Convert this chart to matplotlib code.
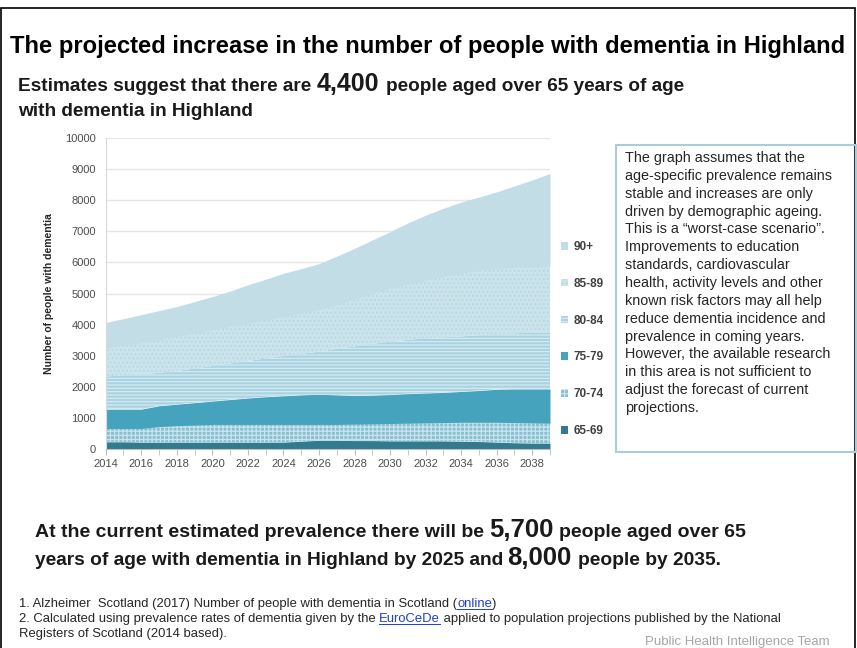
import matplotlib
matplotlib.use("Agg")
import matplotlib.pyplot as plt
from matplotlib.patches import Rectangle, Patch

W, H = 857, 648

years = list(range(2014, 2040))
age_groups = ["65-69", "70-74", "75-79", "80-84", "85-89", "90+"]
age_65_69 = [230, 230, 220, 220, 220, 220, 220, 220, 220, 220, 220, 250, 280,
             280, 270, 270, 260, 260, 260, 260, 250, 240, 220, 200, 190, 190]
age_70_74 = [430, 430, 440, 500, 530, 550, 570, 570, 570, 570, 570, 540, 510,
             510, 530, 540, 560, 570, 580, 590, 610, 620, 640, 650, 650, 640]
age_75_79 = [620, 620, 620, 670, 690, 720, 750, 800, 850, 890, 920, 950, 970,
             950, 920, 920, 930, 950, 960, 970, 990, 1020, 1060, 1080, 1090, 1100]
age_80_84 = [1050, 1090, 1120, 1060, 1070, 1100, 1130, 1160, 1190, 1230, 1280, 1320, 1370,
             1480, 1580, 1650, 1700, 1730, 1760, 1770, 1770, 1780, 1780, 1790, 1810, 1820]
age_85_89 = [920, 960, 1010, 1060, 1110, 1140, 1170, 1190, 1220, 1240, 1270, 1310, 1350,
             1420, 1520, 1620, 1720, 1790, 1870, 1960, 2030, 2080, 2100, 2120, 2120, 2130]
age_90_plus = [820, 860, 910, 940, 960, 1010, 1060, 1140, 1230, 1310, 1390, 1430, 1480,
               1560, 1630, 1720, 1820, 1970, 2090, 2190, 2290, 2360, 2470, 2620, 2790, 2980]
series = [age_65_69, age_70_74, age_75_79, age_80_84, age_85_89, age_90_plus]

y_ticks = list(range(0, 10001, 1000))
x_tick_labels = list(range(2014, 2039, 2))

face_colors = ["#317b8d", "#86c0d1", "#45a3bd", "#a9d3e0", "#cbe4ec", "#c3dde6"]
hatch_colors = ["#317b8d", "#c9e4ec", "#45a3bd", "#d3eaf1", "#b9d8e2", "#c3dde6"]
hatches = [None, "++++", None, "-----", "....", None]

BASE = "Liberation Sans"
plt.rcParams["font.family"] = [BASE, "DejaVu Sans"]
plt.rcParams["hatch.linewidth"] = 0.9

fig = plt.figure(figsize=(W / 100, H / 100), dpi=100)
fig.patch.set_facecolor("white")

def fx(x):
    return x / W

def fy(y):
    return 1 - y / H

# outer frame
fig.patches.append(Rectangle((fx(1), fy(660)), fx(854), 652 / H, transform=fig.transFigure,
                             fill=False, edgecolor="black", lw=1.2))

ax = fig.add_axes([fx(105.7), fy(449), fx(550 - 105.7), 311 / H])
polys = ax.stackplot(years, *series, colors=face_colors)
for p, h, hc in zip(polys, hatches, hatch_colors):
    p.set_edgecolor(hc)
    p.set_linewidth(0)
    if h:
        p.set_hatch(h)

ax.set_xlim(2014, 2039)
ax.set_ylim(0, 10000)
ax.set_yticks(y_ticks)
ax.set_yticklabels([str(v) for v in y_ticks], fontsize=8, color="#4d4d4d")
ax.set_xticks(years, minor=True)
ax.set_xticks(x_tick_labels)
ax.set_xticklabels([str(v) for v in x_tick_labels], fontsize=8, color="#4d4d4d")
ax.tick_params(axis="y", length=0, pad=7)
ax.tick_params(axis="x", which="both", length=4, color="#bfbfbf", direction="out", pad=3)
ax.grid(axis="y", color="#e6e6e6", lw=1)
ax.set_axisbelow(True)
for s in ["top", "right"]:
    ax.spines[s].set_visible(False)
ax.spines["left"].set_color("#d9d9d9")
ax.spines["bottom"].set_color("#bfbfbf")
ax.set_ylabel("Number of people with dementia", fontsize=7.5, fontweight="bold",
              color="#262626", labelpad=8)

handles = [Patch(facecolor=fc, edgecolor=hc, hatch=h, lw=0)
           for fc, hc, h in zip(face_colors, hatch_colors, hatches)]
fig.legend(handles[::-1], age_groups[::-1], loc="upper left",
           bbox_to_anchor=(fx(561), fy(241)), frameon=False,
           prop={"size": 8.5, "weight": "bold"}, labelcolor="#404040",
           handlelength=0.6, handleheight=0.6, handletextpad=0.5,
           labelspacing=2.1, borderpad=0, borderaxespad=0)

# note box
fig.patches.append(Rectangle((fx(616), fy(452)), fx(240), 307 / H, transform=fig.transFigure,
                             fill=False, edgecolor="#a9cdd9", lw=1.5))
note = ("The graph assumes that the\nage-specific prevalence remains\nstable and increases are only\n"
        "driven by demographic ageing.\nThis is a \u201cworst-case scenario\u201d.\nImprovements to education\n"
        "standards, cardiovascular\nhealth, activity levels and other\nknown risk factors may all help\n"
        "reduce dementia incidence and\nprevalence in coming years.\nHowever, the available research\n"
        "in this area is not sufficient to\nadjust the forecast of current\nprojections.")
fig.text(fx(625), fy(151), note, fontsize=10.4, color="#262626", va="top", ha="left",
         linespacing=1.35)

fig.text(fx(10), fy(53), "The projected increase in the number of people with dementia in Highland",
         fontsize=17.1, fontweight="bold", color="black", va="baseline", ha="left")

renderer = fig.canvas.get_renderer()

def runs(x, y, parts):
    for text, size, gap in parts:
        t = fig.text(fx(x), fy(y), text, fontsize=size, fontweight="bold",
                     color="#1a1a1a", va="baseline", ha="left")
        bb = t.get_window_extent(renderer=renderer)
        x += bb.width + gap

runs(18, 91, [("Estimates suggest that there are", 13.7, 5), ("4,400", 18, 7),
              ("people aged over 65 years of age", 13.7, 0)])
runs(18, 116, [("with dementia in Highland", 13.7, 0)])
runs(35, 537, [("At the current estimated prevalence there will be", 14.0, 5), ("5,700", 18.5, 6),
               ("people aged over 65", 14.0, 0)])
runs(35, 565, [("years of age with dementia in Highland by 2025 and", 13.8, 4), ("8,000", 18.5, 6),
               ("people by 2035.", 13.8, 0)])

def foot(x, y, parts):
    for text, link in parts:
        t = fig.text(fx(x), fy(y), text, fontsize=9.4, color="#1f3fd0" if link else "#262626",
                     va="baseline", ha="left")
        bb = t.get_window_extent(renderer=renderer)
        if link:
            fig.add_artist(plt.Line2D([fx(x), fx(x + bb.width)], [fy(y + 2), fy(y + 2)],
                                      transform=fig.transFigure, color="#1f3fd0", lw=0.7))
        x += bb.width

foot(19, 607, [("1. Alzheimer  Scotland (2017) Number of people with dementia in Scotland (", False),
               ("online", True), (")", False)])
foot(19, 622, [("2. Calculated using prevalence rates of dementia given by the ", False),
               ("EuroCeDe", True),
               (" applied to population projections published by the National", False)])
foot(19, 637, [("Registers of Scotland (2014 based).", False)])

fig.text(fx(645), fy(645), "Public Health Intelligence Team", fontsize=9.5, color="#a6a6a6",
         va="baseline", ha="left")

fig.savefig("out.png", dpi=100)
